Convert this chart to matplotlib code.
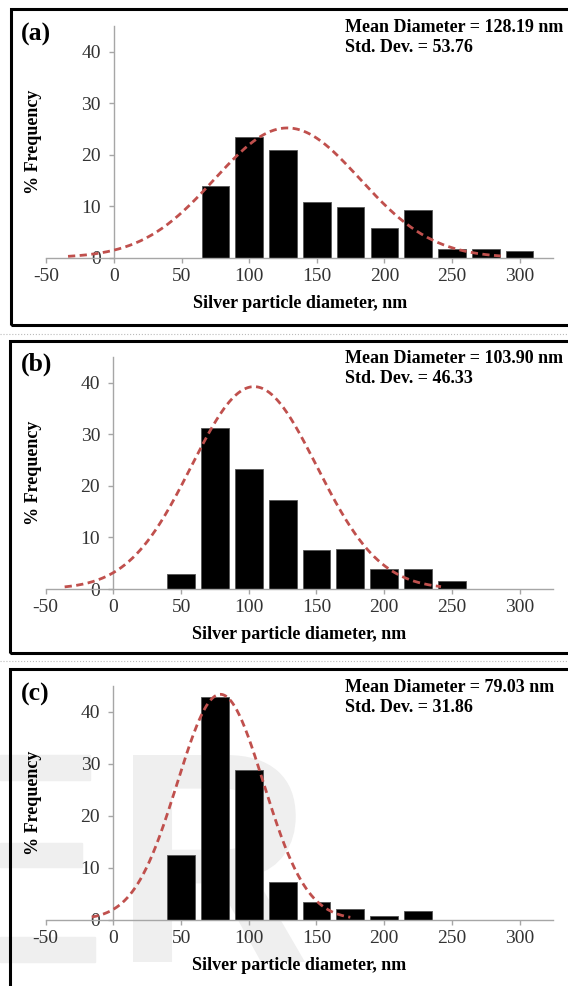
import numpy as np
import matplotlib
matplotlib.use("Agg")
import matplotlib.pyplot as plt
from matplotlib.patches import Rectangle, PathPatch
from matplotlib.textpath import TextPath
from matplotlib.font_manager import FontProperties
from matplotlib.transforms import Affine2D, IdentityTransform

plt.rcParams['font.family'] = ['Liberation Serif', 'DejaVu Serif']
plt.rcParams['axes.unicode_minus'] = False

# ---------------- data ----------------
centers_a = [75, 100, 125, 150, 175, 200, 225, 250, 275, 300]
freq_a = [13.9, 23.5, 20.9, 10.8, 9.9, 5.8, 9.2, 1.7, 1.6, 1.3]
mean_a, std_a, peak_a = 128.19, 53.76, 25.2
curve_range_a = (-34, 286)

centers_b = [50, 75, 100, 125, 150, 175, 200, 225, 250]
freq_b = [2.9, 31.1, 23.3, 17.2, 7.6, 7.8, 3.8, 3.8, 1.5]
mean_b, std_b, peak_b = 103.90, 46.33, 39.2
curve_range_b = (-36, 242)

centers_c = [50, 75, 100, 125, 150, 175, 200, 225]
freq_c = [12.4, 42.9, 28.9, 7.3, 3.5, 2.1, 0.8, 1.7]
mean_c, std_c, peak_c = 79.03, 31.86, 43.4
curve_range_c = (-16, 175)

panel_labels = ['(a)', '(b)', '(c)']
x_ticks = [-50, 0, 50, 100, 150, 200, 250, 300]
y_ticks = [0, 10, 20, 30, 40]

panels = [
    (centers_a, freq_a, mean_a, std_a, peak_a, curve_range_a),
    (centers_b, freq_b, mean_b, std_b, peak_b, curve_range_b),
    (centers_c, freq_c, mean_c, std_c, peak_c, curve_range_c),
]

W, H = 568, 986
fig = plt.figure(figsize=(W / 100, H / 100), dpi=100)

# axes boxes in pixels: (left px, top px, right px, bottom px)
ax_px = [(46.4, 26, 553.4, 257.7), (45.7, 356.7, 553.4, 589), (45.7, 686, 553.4, 919.7)]
box_px = [(11, 9.3, 580, 325), (10, 341, 580, 653), (10, 669, 580, 1000)]

gray = '#A6A6A6'
red = '#C0504D'

# faint watermark in panel (c)
wm = '#EFEFEF'
for (x0, y0, x1, y1) in [(0, 755, 90, 780), (0, 843, 82, 867), (0, 937, 95, 962)]:
    fig.patches.append(Rectangle((x0 / W, 1 - y1 / H), (x1 - x0) / W, (y1 - y0) / H,
                                 transform=fig.transFigure, color=wm, zorder=-10))
tp = TextPath((0, 0), 'R', size=1, prop=FontProperties(family='Liberation Sans', weight='bold'))
ext = tp.get_extents()
rx0, ry0, rx1, ry1 = 133, 755, 305, 962
sx = (rx1 - rx0) / ext.width
sy = (ry1 - ry0) / ext.height
tr = Affine2D().translate(-ext.x0, -ext.y0).scale(sx, sy).translate(rx0, H - ry1)
rpatch = PathPatch(tr.transform_path(tp), facecolor=wm, edgecolor='none',
                   transform=IdentityTransform(), zorder=-10)
fig.patches.append(rpatch)

for i, (cx, fr, mu, sd, pk, cr) in enumerate(panels):
    l, t, r, bt = ax_px[i]
    ax = fig.add_axes([l / W, 1 - bt / H, (r - l) / W, (bt - t) / H])
    ax.patch.set_alpha(0)
    ax.bar(cx, fr, width=20.5, color='black', edgecolor='#555555', linewidth=0.6, zorder=2)
    xs = np.linspace(cr[0], cr[1], 400)
    ys = pk * np.exp(-(xs - mu) ** 2 / (2 * sd ** 2))
    ax.plot(xs, ys, color=red, lw=2.0, linestyle=(0, (2.6, 1.6)), zorder=3)
    ax.set_xlim(-50, 325)
    ax.set_ylim(0, 45)
    ax.set_xticks(x_ticks)
    ax.set_yticks(y_ticks)
    ax.spines['left'].set_position(('data', 0))
    ax.spines['bottom'].set_position(('data', 0))
    ax.spines['top'].set_visible(False)
    ax.spines['right'].set_visible(False)
    for s in ['left', 'bottom']:
        ax.spines[s].set_color(gray)
        ax.spines[s].set_linewidth(1.0)
    ax.tick_params(axis='both', direction='out', length=3.5, width=1.0, color=gray,
                   labelsize=14, labelcolor='#333333')
    ax.tick_params(axis='x', pad=4)
    ax.tick_params(axis='y', pad=6)
    ax.set_xlabel('Silver particle diameter, nm', fontsize=13, fontweight='bold')
    ax.set_ylabel('% Frequency', fontsize=13, fontweight='bold')
    ax.yaxis.set_label_coords((33.5 - l) / (r - l), 0.5)
    ax.xaxis.set_label_coords(0.5, -45.5 / (bt - t))
    ax.xaxis.label.set_va('center')
    ax.yaxis.label.set_va('center')

    # panel label
    fig.text(20.5 / W, 1 - (t + 8) / H, panel_labels[i], fontsize=18.5, fontweight='bold',
             ha='left', va='center')
    # stats text
    fig.text(345 / W, 1 - (t + 1.5) / H, f'Mean Diameter = {mu:.2f} nm', fontsize=13,
             fontweight='bold', ha='left', va='center')
    fig.text(345 / W, 1 - (t + 21.5) / H, f'Std. Dev. = {sd:.2f}', fontsize=13,
             fontweight='bold', ha='left', va='center')

    # panel box
    x0, y0, x1, y1 = box_px[i]
    fig.patches.append(Rectangle((x0 / W, 1 - y1 / H), (x1 - x0) / W, (y1 - y0) / H,
                                 transform=fig.transFigure, fill=False, edgecolor='black',
                                 linewidth=2.2, zorder=5))

# faint dotted separators
for yy in [334, 661]:
    fig.add_artist(plt.Line2D([0, 1], [1 - yy / H, 1 - yy / H], transform=fig.transFigure,
                              color='#BBBBBB', lw=0.8, linestyle=':'))

fig.savefig('out.png', dpi=100)
